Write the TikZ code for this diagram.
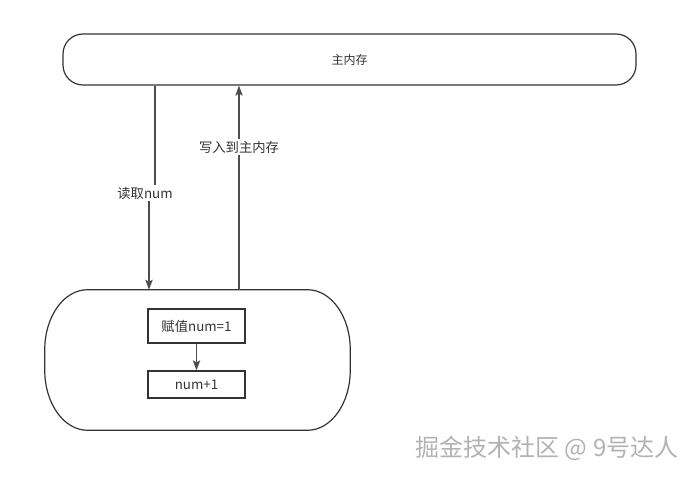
\documentclass[tikz,border=0pt]{standalone}
\usepackage{fontspec}
\newfontfamily\cjk{Noto Sans CJK SC}
\usepackage{xcolor}
\usetikzlibrary{arrows.meta, positioning}

\definecolor{linegray}{HTML}{4D4D4D}
\definecolor{boxgray}{HTML}{333333}

\begin{document}
\begin{tikzpicture}[x=0.75pt, y=0.75pt,
    box/.style={draw=boxgray, line width=0.9pt, inner sep=0pt, font=\cjk\normalsize, text=black!80},
    edge/.style={draw=linegray, line width=1pt, -{Stealth[length=7.5pt, width=5.5pt, inset=1.5pt]}},
    lbl/.style={fill=white, inner sep=1.5pt, font=\cjk\normalsize, text=black!80}]
  \useasboundingbox (0,0) rectangle (698,478);

  \node[box, rounded corners=15pt, minimum width=429.75pt, minimum height=38.25pt, font=\cjk\small]
      (mem) at (349.5,418.5) {主内存};

  \node[minimum width=228.75pt, minimum height=105pt, inner sep=0pt]
      (work) at (197.5,118) {};
  \draw[draw=boxgray, line width=0.9pt]
      ([xshift=32pt]work.north west) -- ([xshift=-32pt]work.north east)
      arc[start angle=90, end angle=0, x radius=32pt, y radius=45pt]
      -- ([yshift=45pt]work.south east)
      arc[start angle=0, end angle=-90, x radius=32pt, y radius=45pt]
      -- ([xshift=32pt]work.south west)
      arc[start angle=270, end angle=180, x radius=32pt, y radius=45pt]
      -- ([yshift=-45pt]work.north west)
      arc[start angle=180, end angle=90, x radius=32pt, y radius=45pt] -- cycle;

  \node[box, minimum width=72.75pt, minimum height=25.5pt]
      (assign) at (196.5,152) {赋值num=1};
  \node[box, minimum width=72.75pt, minimum height=20.25pt]
      (incr) at (196.5,93.5) {num+1};
  \draw[edge] (assign.south) -- (incr.north);

  % read from main memory
  \coordinate (rdup) at (155,285);
  \coordinate (rddn) at (149,285);
  \draw[edge] (mem.south -| rdup) -- (rdup) -- (rddn) -- (work.north -| rddn);
  \node[lbl] (rdlbl) at (145,285) {读取num};

  % write back
  \coordinate (wr) at (239,331);
  \draw[edge] (work.north -| wr) -- (mem.south -| wr);
  \node[lbl] (wrlbl) at (wr) {写入到主内存};

  \node[font=\cjk\fontsize{18pt}{20pt}\selectfont, text=gray!60]
      (mark) at (547,30) {掘金技术社区 @ 9号达人};
\end{tikzpicture}
\end{document}
